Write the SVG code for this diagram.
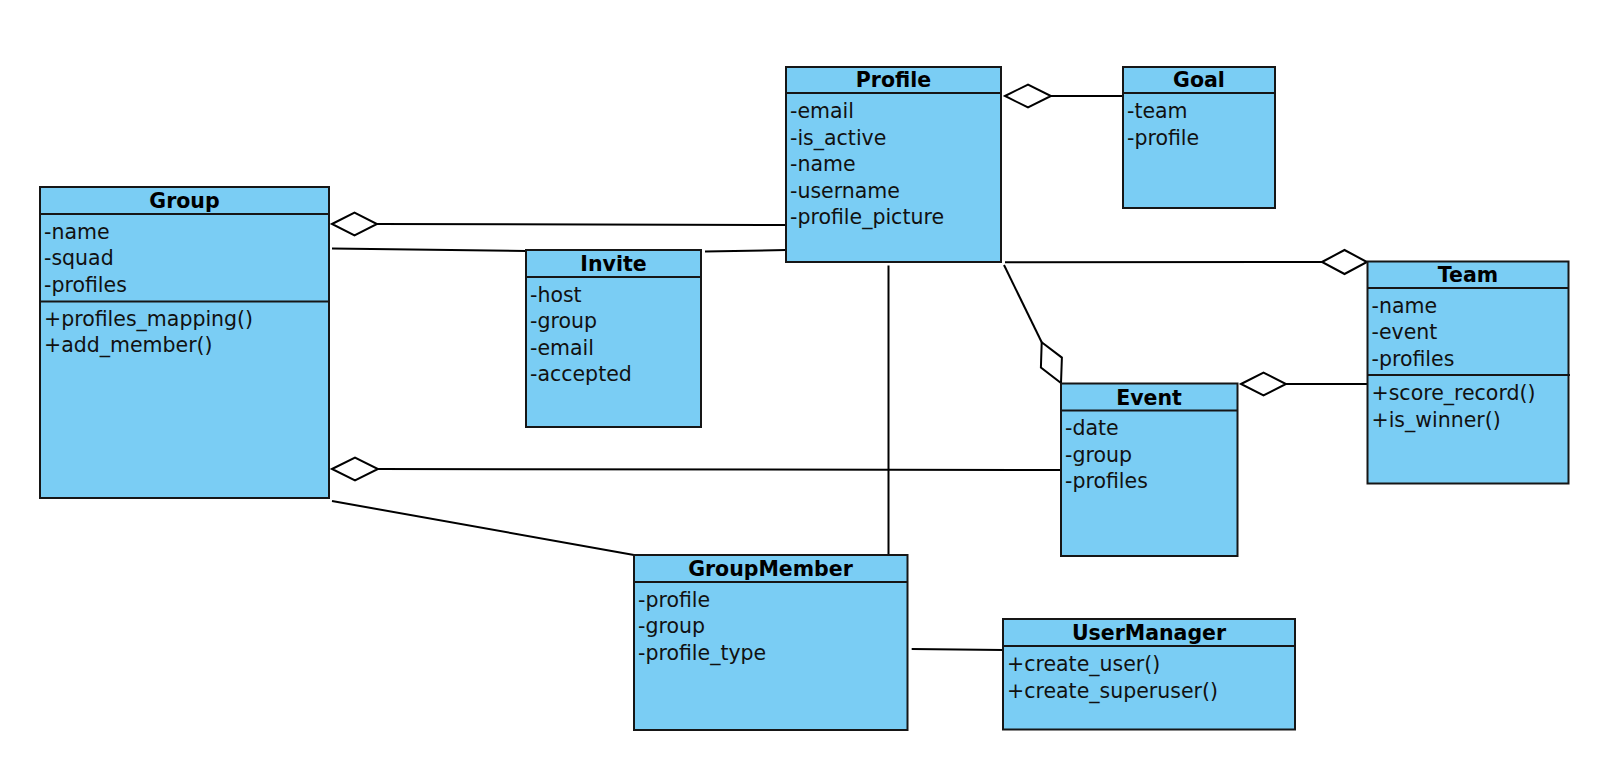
<svg xmlns="http://www.w3.org/2000/svg" width="1606" height="771" viewBox="0 0 1606 771">
<style>
.box{fill:#7acdf4;stroke:#161616;stroke-width:2}
.sep{stroke:#161616;stroke-width:2}
.t{font-family:"DejaVu Sans","Liberation Sans",sans-serif;font-size:20.5px;fill:#111}
.h{font-family:"DejaVu Sans","Liberation Sans",sans-serif;font-size:20.5px;font-weight:bold;fill:#000;text-anchor:middle}
.c{fill:none;stroke:#000;stroke-width:2}
.d{fill:#fff;stroke:#000;stroke-width:2;stroke-linejoin:miter}
</style>
<rect width="1606" height="771" fill="#fff"/>
<g id="connectors">
<line class="c" x1="1051" y1="96" x2="1123" y2="96"/>
<polygon class="d" points="1005,96 1028,84.5 1051,96 1028,107.5"/>
<line class="c" x1="377" y1="224" x2="786" y2="225"/>
<polygon class="d" points="332,224 354.5,212.5 377,224 354.5,235.5"/>
<line class="c" x1="332" y1="248.5" x2="526" y2="251"/>
<line class="c" x1="705" y1="251.5" x2="786" y2="250"/>
<line class="c" x1="888.5" y1="265.5" x2="888.5" y2="555"/>
<line class="c" x1="1005" y1="262.3" x2="1322" y2="262"/>
<polygon class="d" points="1322,262 1344.5,250 1367,262 1344.5,274"/>
<line class="c" x1="1004" y1="265" x2="1041.7" y2="342.3"/>
<polygon class="d" points="1041.7,342.3 1061.9,357.6 1061,383 1040.9,367.6"/>
<line class="c" x1="1286" y1="384" x2="1367" y2="384"/>
<polygon class="d" points="1241,384 1263.5,372.5 1286,384 1263.5,395.5"/>
<line class="c" x1="378" y1="469" x2="1061" y2="470"/>
<polygon class="d" points="332,469 355,457.5 378,469 355,480.5"/>
<line class="c" x1="332" y1="501" x2="634" y2="555"/>
<line class="c" x1="911.7" y1="649" x2="1003" y2="650"/>
</g>
<g id="Profile">
<rect class="box" x="786" y="67" width="215" height="195"/>
<line class="sep" x1="786" y1="93" x2="1001" y2="93"/>
<text class="h" x="893.5" y="87">Profile</text>
<text class="t" x="790" y="118">-email</text>
<text class="t" x="790" y="144.5">-is_active</text>
<text class="t" x="790" y="171">-name</text>
<text class="t" x="790" y="197.5">-username</text>
<text class="t" x="790" y="224">-profile_picture</text>
</g>
<g id="Goal">
<rect class="box" x="1123" y="67" width="152" height="141"/>
<line class="sep" x1="1123" y1="93" x2="1275" y2="93"/>
<text class="h" x="1199" y="87">Goal</text>
<text class="t" x="1127" y="118">-team</text>
<text class="t" x="1127" y="144.5">-profile</text>
</g>
<g id="Group">
<rect class="box" x="40" y="187" width="289" height="311"/>
<line class="sep" x1="40" y1="214" x2="329" y2="214"/>
<line class="sep" x1="40" y1="301.5" x2="329" y2="301.5"/>
<text class="h" x="184.5" y="208">Group</text>
<text class="t" x="44" y="238.5">-name</text>
<text class="t" x="44" y="265">-squad</text>
<text class="t" x="44" y="291.5">-profiles</text>
<text class="t" x="44" y="325.5">+profiles_mapping()</text>
<text class="t" x="44" y="352">+add_member()</text>
</g>
<g id="Invite">
<rect class="box" x="526" y="250" width="175" height="177"/>
<line class="sep" x1="526" y1="277" x2="701" y2="277"/>
<text class="h" x="613.5" y="271">Invite</text>
<text class="t" x="530" y="301.5">-host</text>
<text class="t" x="530" y="328">-group</text>
<text class="t" x="530" y="354.5">-email</text>
<text class="t" x="530" y="381">-accepted</text>
</g>
<g id="Team">
<rect class="box" x="1367.5" y="261.5" width="201" height="222"/>
<line class="sep" x1="1367.5" y1="288" x2="1568.5" y2="288"/>
<line class="sep" x1="1367.5" y1="375" x2="1570" y2="375"/>
<text class="h" x="1468" y="282">Team</text>
<text class="t" x="1371.5" y="312.5">-name</text>
<text class="t" x="1371.5" y="339">-event</text>
<text class="t" x="1371.5" y="365.5">-profiles</text>
<text class="t" x="1371.5" y="400">+score_record()</text>
<text class="t" x="1371.5" y="426.5">+is_winner()</text>
</g>
<g id="Event">
<rect class="box" x="1061" y="383.5" width="176.5" height="172.5"/>
<line class="sep" x1="1061" y1="410.5" x2="1237.5" y2="410.5"/>
<text class="h" x="1149" y="404.5">Event</text>
<text class="t" x="1065" y="435">-date</text>
<text class="t" x="1065" y="461.5">-group</text>
<text class="t" x="1065" y="488">-profiles</text>
</g>
<g id="GroupMember">
<rect class="box" x="634" y="555" width="273.5" height="175"/>
<line class="sep" x1="634" y1="582" x2="907.5" y2="582"/>
<text class="h" x="770.5" y="576">GroupMember</text>
<text class="t" x="638" y="606.5">-profile</text>
<text class="t" x="638" y="633">-group</text>
<text class="t" x="638" y="659.5">-profile_type</text>
</g>
<g id="UserManager">
<rect class="box" x="1003" y="619" width="292" height="110.5"/>
<line class="sep" x1="1003" y1="646" x2="1295" y2="646"/>
<text class="h" x="1149" y="640">UserManager</text>
<text class="t" x="1007" y="671">+create_user()</text>
<text class="t" x="1007" y="697.5">+create_superuser()</text>
</g>
</svg>
